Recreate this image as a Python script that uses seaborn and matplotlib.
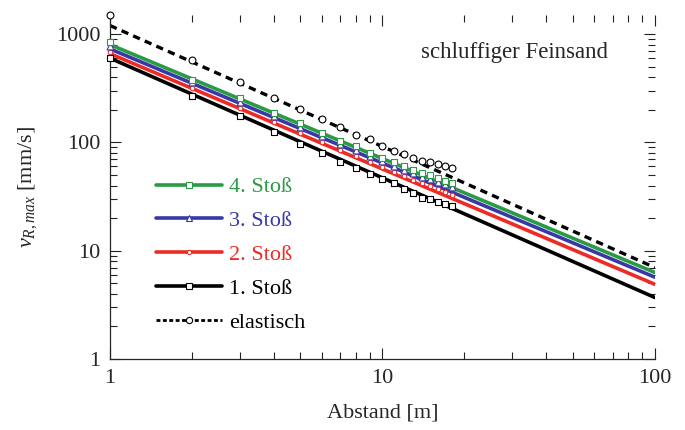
import numpy as np
import pandas as pd
import matplotlib
matplotlib.use("Agg")
import matplotlib.pyplot as plt
from matplotlib.lines import Line2D
from matplotlib.ticker import LogLocator, NullFormatter
import seaborn as sns

# ---- data ----
series = ["4. Stoß", "3. Stoß", "2. Stoß", "1. Stoß", "elastisch"]
# fitted power-law lines: value at r = 1 m and r = 100 m
line_r = [1, 100]
line_start = [800, 730, 660, 600, 1200]
line_end = [6.3, 5.7, 4.9, 3.7, 7.0]

dist = [1, 2, 3, 4, 5, 6, 7, 8, 9, 10, 11, 12, 13, 14, 15, 16, 17, 18]
v_stoss4 = [850, 380, 255, 188, 150, 122, 104, 92, 80, 72, 66, 60, 56, 52, 50, 47, 44, 42]
v_stoss3 = [780, 360, 238, 175, 140, 114, 97, 85, 75, 67, 61, 56, 52, 48, 46, 43, 41, 39]
v_stoss2 = [690, 320, 210, 155, 122, 100, 86, 75, 66, 59, 53, 49, 45, 42, 40, 37, 35, 33]
v_stoss1 = [600, 270, 175, 125, 96, 80, 66, 58, 51, 46, 42, 37, 34, 31, 30, 28, 27, 26]
v_elast = [1500, 580, 360, 256, 204, 166, 140, 118, 108, 92, 84, 78, 72, 68, 66, 63, 60, 58]

colors = ["#2a9a45", "#3838a8", "#ee2a24", "#000000", "#000000"]
markers = ["s", "^", "o", "s", "o"]
msizes = [4.5, 4.5, 3, 4.5, 4.5]

sns.set_style("ticks")
plt.rcParams["font.family"] = ["Liberation Serif", "DejaVu Serif"]
plt.rcParams["mathtext.fontset"] = "custom"
plt.rcParams["mathtext.rm"] = "Liberation Serif"
plt.rcParams["mathtext.it"] = "Liberation Serif:italic"

fig = plt.figure(figsize=(6.85, 4.3), dpi=100)
ax = fig.add_axes([0.1606, 0.165, 0.7954, 0.800])

lines_df = pd.DataFrame({
    "r": line_r * len(series),
    "v": sum([[s, e] for s, e in zip(line_start, line_end)], []),
    "series": sum([[n, n] for n in series], []),
})
pts_df = pd.DataFrame({
    "r": dist * len(series),
    "v": v_stoss4 + v_stoss3 + v_stoss2 + v_stoss1 + v_elast,
    "series": sum([[n] * len(dist) for n in series], []),
})

order = [3, 2, 1, 0, 4]
for i in order:
    n = series[i]
    d = lines_df[lines_df.series == n]
    ls = (0, (2.2, 1.6)) if n == "elastisch" else "-"
    lw = 2.6 if n != "elastisch" else 2.4
    sns.lineplot(data=d, x="r", y="v", color=colors[i], lw=lw, linestyle=ls,
                 ax=ax, legend=False, zorder=2)

for i in order:
    n = series[i]
    d = pts_df[pts_df.series == n]
    sns.scatterplot(data=d, x="r", y="v", marker=markers[i], s=msizes[i] ** 2 * 1.2,
                    facecolor="white", edgecolor=colors[i],
                    linewidth=0.8, ax=ax, legend=False, zorder=3, clip_on=False)

ax.set_xscale("log")
ax.set_yscale("log")
ax.set_xlim(1, 100)
ax.set_ylim(1, 1500)

ax.set_xticks([1, 10, 100])
ax.set_xticklabels(["1", "10", "100"])
ax.set_yticks([1, 10, 100, 1000])
ax.set_yticklabels(["1", "10", "100", "1000"])
ax.xaxis.set_minor_locator(LogLocator(base=10, subs=np.arange(2, 10)))
ax.yaxis.set_minor_locator(LogLocator(base=10, subs=np.arange(2, 10)))
ax.xaxis.set_minor_formatter(NullFormatter())
ax.yaxis.set_minor_formatter(NullFormatter())
ax.tick_params(which="both", direction="in", top=True, right=True,
               labelsize=16, width=0.8, color="#222222")
ax.tick_params(which="major", length=8, pad=7)
ax.tick_params(which="minor", length=5)

for side in ["top", "right"]:
    ax.spines[side].set_visible(False)
for side in ["left", "bottom"]:
    ax.spines[side].set_linewidth(0.9)

ax.set_xlabel("Abstand [m]", fontsize=16, labelpad=11)
ax.set_ylabel(r"$v_{R,max}$ [mm/s]", fontsize=16, labelpad=12)

ax.text(0.743, 0.89, "schluffiger Feinsand", transform=ax.transAxes,
        ha="center", va="center", fontsize=16.5)

handles = []
for i in range(len(series)):
    n = series[i]
    ls = (0, (1.4, 0.9)) if n == "elastisch" else "-"
    handles.append(Line2D([0], [0], color=colors[i], lw=2.6 if n != "elastisch" else 2.0,
                          linestyle=ls, marker=markers[i], markersize=msizes[i],
                          markerfacecolor="white", markeredgecolor=colors[i],
                          markeredgewidth=0.8))
leg = ax.legend(handles, series, loc="upper left", bbox_to_anchor=(0.055, 0.575),
                frameon=False, fontsize=16, handlelength=3.0, handletextpad=0.3,
                labelspacing=0.6, borderpad=0.2, markerfirst=True)
for t, c in zip(leg.get_texts(), colors):
    t.set_color(c)

fig.savefig("out.png", dpi=100)
